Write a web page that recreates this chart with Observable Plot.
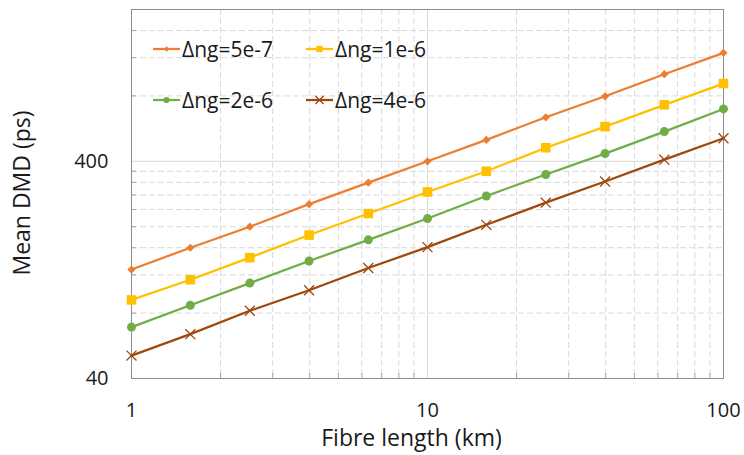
<!DOCTYPE html>
<html>
<head>
<meta charset="utf-8">
<script src="https://cdn.jsdelivr.net/npm/d3@7"></script>
<script src="https://cdn.jsdelivr.net/npm/@observablehq/plot@0.6"></script>
<style>
  html, body { margin: 0; padding: 0; background: #fff; }
  #wrap { position: relative; width: 744px; height: 455px; font-family: "Open Sans", sans-serif; color: #1a1a1a; }
  .item { position: absolute; height: 24px; display: flex; align-items: center; font-size: 21px; white-space: nowrap; }
  .item svg { display: block; margin-right: 2px; }
</style>
</head>
<body>
<div id="wrap"></div>
<script>
// Fibre lengths (km)
const lengths = [1, 1.58, 2.51, 3.98, 6.31, 10, 15.8, 25.1, 39.8, 63.1, 100];
// Mean DMD (ps) for each Δng
const dmd5e7 = [127, 160, 200, 254, 319, 400, 502, 638, 797, 1007, 1263];
const dmd1e6 = [92, 114, 144, 183, 230, 289, 360, 462, 578, 728, 912];
const dmd2e6 = [69, 87, 110, 139, 174, 218, 277, 348, 434, 548, 697];
const dmd4e6 = [51, 64, 82, 102, 129, 161, 204, 258, 323, 407, 511];
const seriesNames = ["Δng=5e-7", "Δng=1e-6", "Δng=2e-6", "Δng=4e-6"];
const seriesColors = ["#ED7D31", "#FFC000", "#70AD47", "#9E480E"];
// Axis ticks
const xTicks = [1, 10, 100];
const yTicks = [40, 400];
const xMinor = [2, 3, 4, 5, 6, 7, 8, 9, 20, 30, 40, 50, 60, 70, 80, 90];
const yMinor = [80, 120, 160, 200, 240, 280, 320, 360, 800, 1200, 1600];

const seriesValues = [dmd5e7, dmd1e6, dmd2e6, dmd4e6];
const symbols = [
  {symbol: "diamond2", r: 3.7, fill: true},
  {symbol: "square", r: 5.4, fill: true},
  {symbol: "circle", r: 4.5, fill: true},
  {symbol: "times", r: 4.6, fill: false}
];
const series = seriesNames.map((name, k) => ({
  name, color: seriesColors[k], ...symbols[k],
  rows: lengths.map((L, i) => ({L, v: seriesValues[k][i]}))
}));

const gridColor = "#d9d9d9";
const chart = Plot.plot({
  width: 744, height: 455,
  marginLeft: 131, marginRight: 21, marginTop: 9, marginBottom: 77,
  style: {fontFamily: "Open Sans", fontSize: "20px", color: "#1a1a1a", background: "white"},
  x: {type: "log", domain: [1, 100]},
  y: {type: "log", domain: [40, 2000]},
  marks: [
    Plot.ruleX(xMinor, {stroke: gridColor, strokeDasharray: "6,3"}),
    Plot.ruleY(yMinor, {stroke: gridColor, strokeDasharray: "6,3"}),
    Plot.ruleX(xTicks, {stroke: gridColor}),
    Plot.ruleY(yTicks, {stroke: gridColor}),
    Plot.axisX(xMinor, {tickSize: -5, stroke: "#a6a6a6", tickFormat: null, text: null, label: null}),
    Plot.axisY(yMinor, {tickSize: -5, stroke: "#a6a6a6", tickFormat: null, text: null, label: null}),
    Plot.frame({stroke: "#8c8c8c"}),
    Plot.axisX(xTicks, {tickSize: 0, tickPadding: 24, tickFormat: d => String(d), label: null, fontSize: 20}),
    Plot.axisY(yTicks, {tickSize: 0, tickPadding: 23, tickFormat: d => String(d), label: null, fontSize: 20}),
    ...series.flatMap(s => [
      Plot.line(s.rows, {x: "L", y: "v", stroke: s.color, strokeWidth: 2.25}),
      s.fill
        ? Plot.dot(s.rows, {x: "L", y: "v", symbol: s.symbol, r: s.r, fill: s.color, stroke: "none"})
        : Plot.dot(s.rows, {x: "L", y: "v", symbol: s.symbol, r: s.r, stroke: s.color, strokeWidth: 1.3})
    ]),
    Plot.text(["Fibre length (km)"], {text: d => d, frameAnchor: "bottom", dy: 60, dx: -16, fontSize: 23, lineAnchor: "middle", fill: "#1a1a1a"}),
    Plot.text(["Mean DMD (ps)"], {text: d => d, frameAnchor: "left", textAnchor: "middle", rotate: -90, dx: -109, dy: -1, fontSize: 23, lineAnchor: "middle", fill: "#1a1a1a"})
  ]
});
const wrap = document.getElementById("wrap");
wrap.appendChild(chart);

// Legend (overlay inside plot area)
const legendPos = [
  {left: 153, top: 37}, {left: 306, top: 37},
  {left: 153, top: 88}, {left: 306, top: 88}
];
const legendSym = [
  {type: d3.symbolSquare, size: 14, rotate: 45, fill: true},
  {type: d3.symbolSquare, size: 40, rotate: 0, fill: true},
  {type: d3.symbolCircle, size: 30, rotate: 0, fill: true},
  {type: d3.symbolTimes, size: 45, rotate: 0, fill: false}
];
series.forEach((s, k) => {
  const item = document.createElement("div");
  item.className = "item";
  item.style.left = legendPos[k].left + "px";
  item.style.top = legendPos[k].top + "px";
  const svg = d3.create("svg").attr("width", 27).attr("height", 24);
  svg.append("line").attr("x1", 0).attr("x2", 27).attr("y1", 12).attr("y2", 12)
    .attr("stroke", s.color).attr("stroke-width", 2.25);
  const ls = legendSym[k];
  const p = svg.append("path").attr("d", d3.symbol(ls.type, ls.size)())
    .attr("transform", `translate(13.5,12) rotate(${ls.rotate})`);
  if (ls.fill) p.attr("fill", s.color); else p.attr("fill", "none").attr("stroke", s.color).attr("stroke-width", 1.3);
  item.appendChild(svg.node());
  const span = document.createElement("span");
  span.textContent = s.name;
  item.appendChild(span);
  wrap.appendChild(item);
});
</script>
</body>
</html>
